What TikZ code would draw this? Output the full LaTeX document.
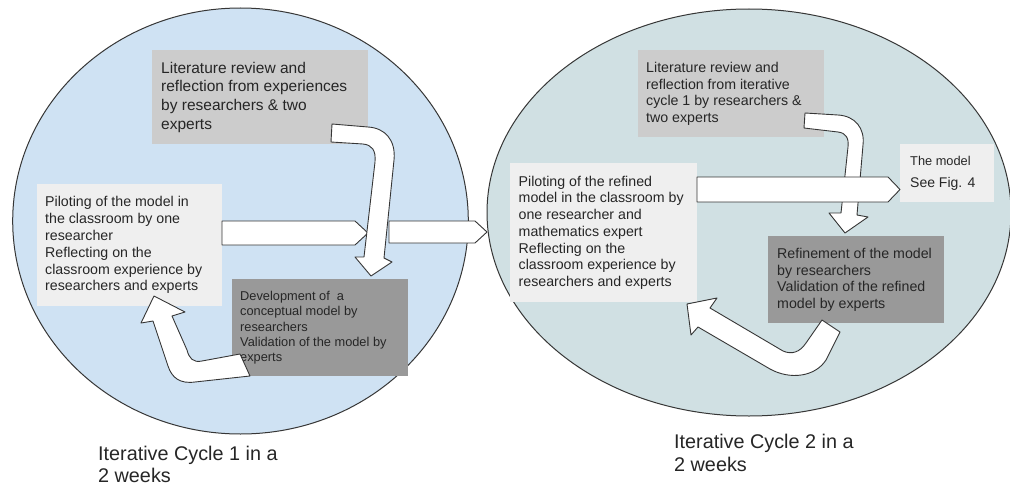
\documentclass[tikz,border=0pt]{standalone}
\usepackage{fontspec}
\setmainfont{Liberation Sans}
\definecolor{cycA}{HTML}{CFE2F3}
\definecolor{cycB}{HTML}{D0E0E3}
\definecolor{boxL}{HTML}{CCCCCC}
\definecolor{boxW}{HTML}{EFEFEF}
\definecolor{boxD}{HTML}{999999}
\definecolor{ink}{HTML}{262626}
\definecolor{edgec}{HTML}{363636}
\begin{document}
\begin{tikzpicture}[x=1pt,y=-1pt,
  cyc/.style={draw=edgec, line width=1pt},
  panel/.style={draw=none, inner sep=0pt, anchor=north west},
  txt/.style={anchor=west, align=left, inner sep=0pt, text=ink},
  blockarrow/.style={draw=edgec, fill=white, line width=0.9pt, line join=round},
  caption/.style={anchor=north west, align=left, inner sep=0pt, text=ink, font=\fontsize{19.8}{22.5}\selectfont}]
\useasboundingbox[fill=white] (0,0) rectangle (1010,487);

% cycles
\path[cyc, fill=cycA] (240.5,221) ellipse [x radius=227.8, y radius=213];
\path[cyc, fill=cycB] (749,212.5) ellipse [x radius=262, y radius=203.5];

% cycle 1 boxes
\node[panel, fill=boxL, minimum width=216pt, minimum height=94pt] (litA) at (152,50) {};
\node[txt, font=\fontsize{15.5}{18.7}\selectfont] (litAt) at ([xshift=9pt]litA.west)
  {Literature review and\\reflection from experiences\\by researchers \& two\\experts};
\node[panel, fill=boxW, minimum width=185pt, minimum height=122pt] (pilA) at (37,184) {};
\node[txt, font=\fontsize{14.2}{16.8}\selectfont] (pilAt) at ([xshift=8pt]pilA.west)
  {Piloting of the model in\\the classroom by one\\researcher\\Reflecting on the\\classroom experience by\\researchers and experts};
\node[panel, fill=boxD, minimum width=176pt, minimum height=97pt] (devA) at (232,279) {};
\node[txt, font=\fontsize{12.8}{15.2}\selectfont] (devAt) at ([xshift=8pt]devA.west)
  {Development of \ a\\conceptual model by\\researchers\\Validation of the model by\\experts};

% cycle 2 boxes
\node[panel, fill=boxL, minimum width=186pt, minimum height=87pt] (litB) at (638,50) {};
\node[txt, font=\fontsize{14.2}{16.7}\selectfont] (litBt) at ([xshift=8pt]litB.west)
  {Literature review and\\reflection from iterative\\cycle 1 by researchers \&\\two experts};
\node[panel, fill=boxW, minimum width=187pt, minimum height=139pt] (pilB) at (510,163) {};
\node[txt, font=\fontsize{14.2}{16.7}\selectfont] (pilBt) at ([xshift=8.5pt]pilB.west)
  {Piloting of the refined\\model in the classroom by\\one researcher and\\mathematics expert\\Reflecting on the\\classroom experience by\\researchers and experts};
\node[panel, fill=boxW, minimum width=94pt, minimum height=58pt] (modB) at (900,144) {};
\node[txt, font=\fontsize{14}{21.6}\selectfont] (modBt) at ([xshift=10pt]modB.west)
  {{\fontsize{12.8}{21.6}\selectfont The model}\\See Fig. 4};
\node[panel, fill=boxD, minimum width=176pt, minimum height=87pt] (refB) at (768,236) {};
\node[txt, font=\fontsize{14.2}{16.7}\selectfont] (refBt) at ([xshift=9pt]refB.west)
  {Refinement of the model\\by researchers\\Validation of the refined\\model by experts};

% cycle 1 arrows
\path[blockarrow] (222,221) -- (355,221) -- (368,233) -- (355,245) -- (222,245) -- cycle;
\path[blockarrow] (332,124) -- (368,127) .. controls (385,128) and (396,140) .. (394,160)
  -- (384,258) -- (392,262) -- (371,276) -- (355,257) -- (364,257) -- (375,162)
  .. controls (376,150) and (372,145) .. (363,144) -- (331,142) -- cycle;
\path[blockarrow] (240,354) -- (202,361) .. controls (193,363) and (189,358) .. (187,350)
  -- (172,316) -- (185,312) -- (154,296) -- (141,323) -- (153,321) -- (168,366)
  .. controls (172,378) and (180,384) .. (195,382) -- (250,376) -- cycle;

% between cycles
\path[blockarrow] (389,221) -- (475,221) -- (487,232) -- (475,243) -- (389,243) -- cycle;

% cycle 2 arrows
\path[blockarrow] (805,113) -- (838,115) .. controls (855,116) and (865,128) .. (863,145)
  -- (857,215) -- (868,217) -- (845,233) -- (829,213) -- (841,213) -- (848,147)
  .. controls (849,138) and (846,133) .. (838,132) -- (804,128) -- cycle;
\path[blockarrow] (697,177) -- (888,177) -- (900,189.5) -- (888,202) -- (697,202) -- cycle;
\path[blockarrow] (822,320) -- (806,343) .. controls (800,352) and (792,355) .. (783,351)
  -- (710,308) -- (717,298) -- (687,304) -- (691,335) -- (698,327) -- (770,369)
  .. controls (790,380) and (815,377) .. (826,360) -- (840,332) -- cycle;

% captions
\node[caption] (capA) at (98,445.5) {Iterative Cycle 1 in a\\2 weeks};
\node[caption] (capB) at (674,434) {Iterative Cycle 2 in a\\2 weeks};
\end{tikzpicture}
\end{document}
